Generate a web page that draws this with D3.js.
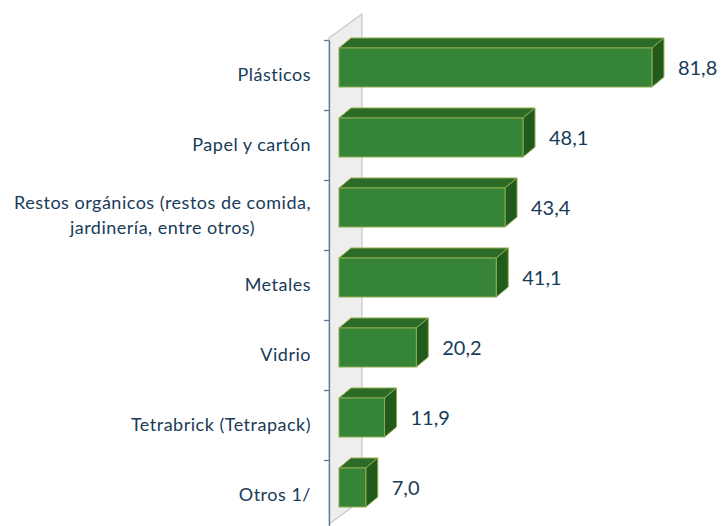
<!DOCTYPE html>
<html>
<head>
<meta charset="utf-8">
<script src="https://cdn.jsdelivr.net/npm/d3@7/dist/d3.min.js"></script>
<style>
  html, body { margin: 0; padding: 0; background: #ffffff; }
  svg { display: block; }
  text { font-family: Lato, "Open Sans", sans-serif; fill: #183b59; }
</style>
</head>
<body>
<svg id="chart" width="721" height="526"></svg>
<script>
// Categories (line breaks marked with "\n") and their values
const categories = [
  "Plásticos",
  "Papel y cartón",
  "Restos orgánicos (restos de comida,\njardinería, entre otros)",
  "Metales",
  "Vidrio",
  "Tetrabrick (Tetrapack)",
  "Otros 1/"
];
const values = [81.8, 48.1, 43.4, 41.1, 20.2, 11.9, 7.0];

const svg = d3.select("#chart");

// Layout of the pseudo-3D plot
const axisX = 329;          // front edge of the side wall
const barX0 = 339;          // zero position of the bars (front face)
const plotTop = 40, plotBottom = 530;
const wallDx = 33, wallDy = -24;
const depthDx = 12, depthDy = -10;
const labelRight = 311;

const y = d3.scaleBand().domain(categories).range([plotTop, plotBottom]).padding(0);
const x = d3.scaleLinear().domain([0, 90]).range([barX0, barX0 + 344.3]);

const fmt = d3.formatLocale({ decimal: ",", thousands: ".", grouping: [3], currency: ["", ""] }).format(".1f");

// Side wall (value = 0 plane)
svg.append("polygon")
  .attr("points", [
    [axisX, plotTop - 2], [axisX + wallDx, plotTop - 2 + wallDy],
    [axisX + wallDx, 524 + wallDy], [axisX, 524]
  ].map(p => p.join(",")).join(" "))
  .attr("fill", "#eeeeee")
  .attr("stroke", "#c9c9c9")
  .attr("stroke-width", 1.2);

// Category axis with ticks at band boundaries
const tickScale = d3.scaleLinear().domain([0, categories.length]).range([plotTop, plotBottom]);
const axis = svg.append("g")
  .attr("transform", `translate(${axisX},0)`)
  .call(d3.axisLeft(tickScale).ticks(categories.length).tickSize(5).tickSizeOuter(0).tickFormat(""));
axis.selectAll("path, line").attr("stroke", "#5b7897").attr("stroke-width", 1.3);

// Bars: front, top and side faces
const bars = svg.append("g").selectAll("g").data(values).join("g");
const frontTop = (d, i) => y(categories[i]) + 8;
const barH = 39;

bars.append("polygon") // top face
  .attr("points", (d, i) => {
    const yt = frontTop(d, i), x1 = x(d);
    return [[barX0, yt], [barX0 + depthDx, yt + depthDy], [x1 + depthDx, yt + depthDy], [x1, yt]]
      .map(p => p.join(",")).join(" ");
  })
  .attr("fill", "#2b6a27").attr("stroke", "#8fac4e").attr("stroke-width", 1);

bars.append("polygon") // side face
  .attr("points", (d, i) => {
    const yt = frontTop(d, i), x1 = x(d);
    return [[x1, yt], [x1 + depthDx, yt + depthDy], [x1 + depthDx, yt + depthDy + barH], [x1, yt + barH]]
      .map(p => p.join(",")).join(" ");
  })
  .attr("fill", "#215a1d").attr("stroke", "#8fac4e").attr("stroke-width", 1);

bars.append("rect") // front face
  .attr("x", barX0)
  .attr("y", (d, i) => frontTop(d, i))
  .attr("width", d => x(d) - barX0)
  .attr("height", barH)
  .attr("fill", "#368437").attr("stroke", "#8fac4e").attr("stroke-width", 1);

// Value labels
bars.append("text")
  .attr("x", d => x(d) + depthDx + 14)
  .attr("y", (d, i) => frontTop(d, i) + barH / 2)
  .attr("dy", "0.35em")
  .attr("font-size", 20)
  .text(d => fmt(d));

// Category labels: right-aligned block, lines centred within the block
const labels = svg.append("g").selectAll("text").data(categories).join("text")
  .attr("text-anchor", "end")
  .attr("font-size", 18)
  .attr("letter-spacing", 0.5);
labels.each(function (c) {
  const lines = c.split("\n");
  const cy = y(c) + y.bandwidth() / 2;
  const lh = 25;
  const spans = d3.select(this).selectAll("tspan").data(lines).join("tspan")
    .attr("x", labelRight)
    .attr("y", (l, j) => cy + (j - (lines.length - 1) / 2) * lh)
    .attr("dy", "0.35em")
    .text(l => l);
  if (lines.length > 1) {
    const maxW = d3.max(spans.nodes(), n => n.getComputedTextLength());
    d3.select(this).attr("text-anchor", "middle");
    spans.attr("x", labelRight - maxW / 2);
  }
});
</script>
</body>
</html>
